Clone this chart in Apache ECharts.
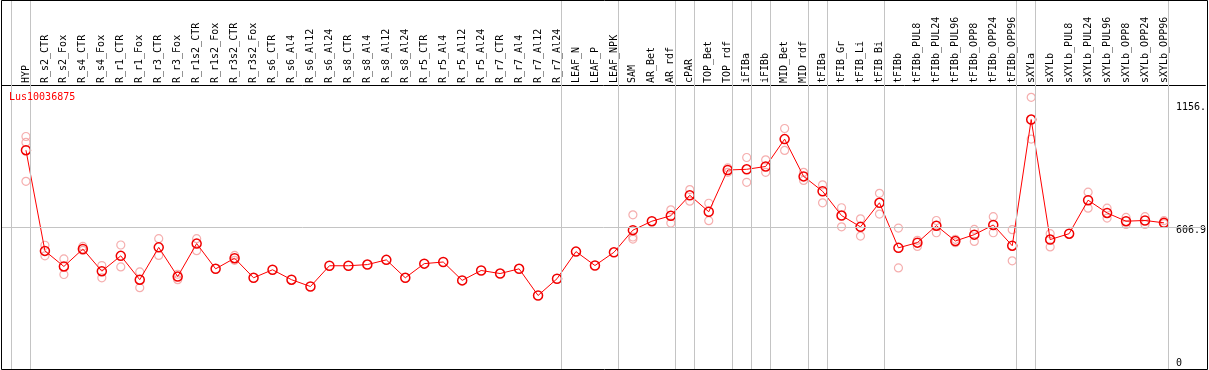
<!DOCTYPE html>
<html>
<head>
<meta charset="utf-8">
<script src="https://cdn.jsdelivr.net/npm/echarts@6/dist/echarts.min.js"></script>
<style>
  html, body { margin: 0; padding: 0; background: #fff; }
  #chart { width: 1209px; height: 370px; }
</style>
</head>
<body>
<div id="chart"></div>
<script>
// expression plot, one gene, means + replicates
const geneName = 'Lus10036875';

const categories = [
  'HYP', 'R_s2_CTR', 'R_s2_Fox', 'R_s4_CTR', 'R_s4_Fox', 'R_r1_CTR', 'R_r1_Fox',
  'R_r3_CTR', 'R_r3_Fox', 'R_r1s2_CTR', 'R_r1s2_Fox', 'R_r3s2_CTR', 'R_r3s2_Fox',
  'R_s6_CTR', 'R_s6_Al4', 'R_s6_Al12', 'R_s6_Al24', 'R_s8_CTR', 'R_s8_Al4',
  'R_s8_Al12', 'R_s8_Al24', 'R_r5_CTR', 'R_r5_Al4', 'R_r5_Al12', 'R_r5_Al24',
  'R_r7_CTR', 'R_r7_Al4', 'R_r7_Al12', 'R_r7_Al24', 'LEAF_N', 'LEAF_P', 'LEAF_NPK',
  'SAM', 'AR_Bet', 'AR_rdf', 'cPAR', 'TOP_Bet', 'TOP_rdf', 'iFIBa', 'iFIBb',
  'MID_Bet', 'MID_rdf', 'tFIBa', 'tFIB_Gr', 'tFIB_Li', 'tFIB_Bi', 'tFIBb',
  'tFIBb_PUL8', 'tFIBb_PUL24', 'tFIBb_PUL96', 'tFIBb_OPP8', 'tFIBb_OPP24', 'tFIBb_OPP96',
  'sXYLa', 'sXYLb', 'sXYLb_PUL8', 'sXYLb_PUL24', 'sXYLb_PUL96', 'sXYLb_OPP8',
  'sXYLb_OPP24', 'sXYLb_OPP96'
];

const meanValues = [
  932, 505, 439, 513, 419, 484, 383, 520, 396, 536, 429, 474, 391,
  425, 383, 354, 442, 442, 447, 467, 391, 451, 458, 380, 422,
  409, 429, 316, 387, 502, 443, 499,
  593, 631, 654, 741, 671, 848, 851, 863,
  979, 821, 758, 655, 607, 709, 518,
  540, 612, 547, 574, 615, 527,
  1062, 553, 578, 720, 666, 631, 634, 624
];

const rep1 = [
  990, 529, 471, 524, 443, 530, 416, 557, 406, 557, null, 486, null,
  null, null, null, null, null, null, null, null, null, null, null, null,
  null, null, null, null, null, null, null,
  658, null, 679, 765, 707, 857, 901, 891,
  1024, 838, 785, 688, 641, 749, 602,
  550, 634, 554, 596, 650, 595,
  1156.4, 578, null, 754, 686, 647, 650, 633
];

const rep2 = [
  965, 484, 405, 507, 391, 437, 349, 486, 383, 506, null, 465, null,
  null, null, null, null, null, null, null, null, null, null, null, null,
  null, null, null, null, null, null, null,
  564, null, 623, 716, 633, 838, 796, 838,
  931, 804, 709, 607, 568, 661, 433,
  524, 582, 540, 545, 582, 463,
  979, 522, null, 686, 644, 617, 617, 621
];

const rep3 = [
  800, null, null, null, null, null, null, null, null, null, null, null, null,
  null, null, null, null, null, null, null, null, null, null, null, null,
  null, null, null, null, null, null, null,
  555, null, null, null, null, null, null, null,
  null, null, null, null, null, null, null,
  null, null, null, null, null, null,
  null, null, null, null, null, null, null
];

const refLevel = 606.9;
const yTickValues = [0, 606.9, 1156];
const yTickLabels = ['0', '606.9', '1156.'];

// group separators (positions in category units)
const groupBreaks = [-0.8, 0.24, 28.24, 31.23, 34.23, 35.23, 37.23, 38.23, 39.23,
  41.23, 42.23, 45.23, 52.23, 53.23, 60.21];

const FONT = 'DejaVu Sans Mono';
const X0 = 26, STEP = 19;          // px of first category, px between categories
const LEFT = 1.5, RIGHT_EDGE = 1207.5;
const PX_PER_UNIT = 0.23711, ZERO_Y = 372;

const repPoints = [];
[rep1, rep2, rep3].forEach(function (arr) {
  arr.forEach(function (v, i) { if (v != null) repPoints.push([i, v]); });
});
const meanPoints = meanValues.map(function (v, i) { return [i, v]; });

const tickRich = { a: { padding: [20, 0, 0, 0] }, b: { padding: [7, 0, 0, 0] }, c: { padding: [0, 0, 14, 0] } };
const richKeys = ['c', 'b', 'a'];

const chart = echarts.init(document.getElementById('chart'), null, { renderer: 'canvas' });
const option = {
  animation: false,
  backgroundColor: '#fff',
  title: {
    text: geneName,
    left: 9,
    top: 92,
    padding: 0,
    textStyle: { color: '#ff0000', fontSize: 10, fontWeight: 'normal', fontFamily: FONT }
  },
  grid: { left: LEFT, right: 1209 - RIGHT_EDGE, top: 0, bottom: 370 - ZERO_Y },
  xAxis: {
    type: 'value',
    position: 'top',
    offset: -85,
    min: (LEFT - X0) / STEP,
    max: (RIGHT_EDGE - X0) / STEP,
    axisLine: { show: true, onZero: false, lineStyle: { color: '#000', width: 1 } },
    axisTick: { show: false },
    splitLine: { show: false },
    axisLabel: {
      customValues: categories.map(function (c, i) { return i; }),
      rotate: -90,
      margin: 2,
      color: '#000',
      fontSize: 10,
      fontFamily: FONT,
      formatter: function (v) { return categories[Math.round(v)]; }
    }
  },
  yAxis: {
    type: 'value',
    position: 'right',
    offset: -29.5,
    min: 0,
    max: ZERO_Y / PX_PER_UNIT,
    axisLine: { show: false },
    axisTick: { show: false },
    splitLine: { show: false },
    axisLabel: {
      customValues: yTickValues,
      margin: 0,
      color: '#000',
      fontSize: 10,
      fontFamily: FONT,
      verticalAlign: 'middle',
      formatter: function (v) {
        const k = yTickValues.indexOf(v);
        return '{' + richKeys[k] + '|' + yTickLabels[k] + '}';
      },
      rich: tickRich
    }
  },
  series: [
    {
      name: 'replicates',
      type: 'scatter',
      z: 2,
      symbol: 'circle',
      symbolSize: 8,
      itemStyle: { color: 'rgba(255,255,255,0)', borderColor: '#f29a9a', borderWidth: 1.2 },
      data: repPoints,
      markLine: {
        silent: true,
        symbol: 'none',
        label: { show: false },
        lineStyle: { color: '#c4c4c4', width: 1, type: 'solid' },
        data: groupBreaks.map(function (x) { return { xAxis: x }; })
          .concat([{ yAxis: refLevel }])
      }
    },
    {
      name: 'mean',
      type: 'line',
      z: 3,
      symbol: 'circle',
      symbolSize: 9,
      showAllSymbol: true,
      lineStyle: { color: '#ff0000', width: 1 },
      itemStyle: { color: 'rgba(255,255,255,0)', borderColor: '#f00000', borderWidth: 1.5 },
      data: meanPoints
    }
  ],
  graphic: [
    {
      type: 'rect',
      z: 100,
      silent: true,
      shape: { x: 1.5, y: 0.5, width: 1206, height: 369 },
      style: { fill: null, stroke: '#000', lineWidth: 1 }
    }
  ]
};
chart.setOption(option);
</script>
</body>
</html>
